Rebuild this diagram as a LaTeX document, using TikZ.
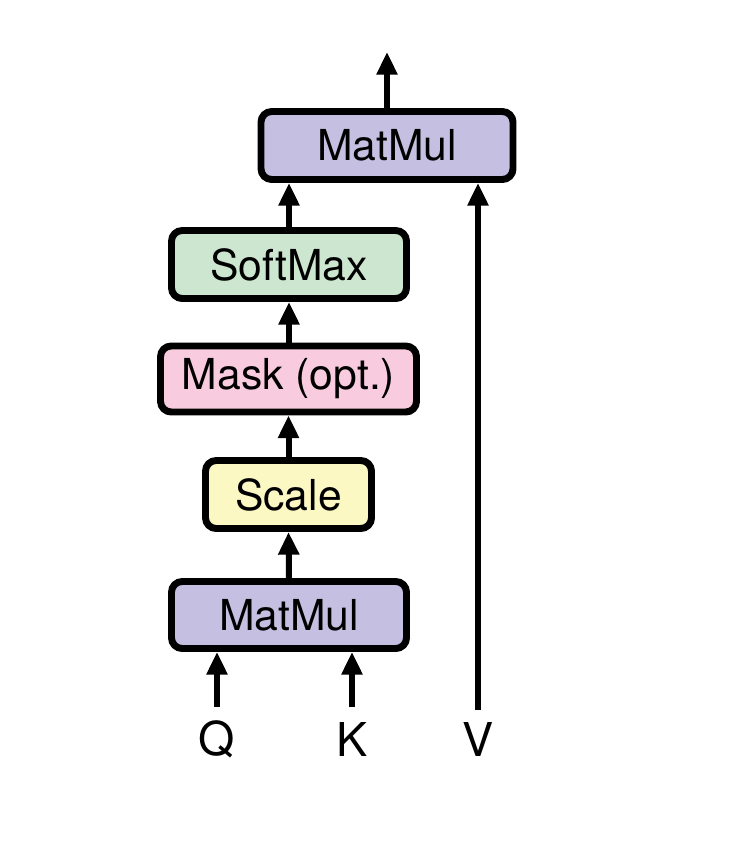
\documentclass[tikz,border=0pt]{standalone}
\usepackage{fontspec}
\setmainfont{TeX Gyre Heros}
\usetikzlibrary{arrows.meta}
\definecolor{mmpurple}{RGB}{197,192,225}
\definecolor{smgreen}{RGB}{204,230,207}
\definecolor{mkpink}{RGB}{248,204,222}
\definecolor{scyellow}{RGB}{252,248,195}
\begin{document}
\begin{tikzpicture}[x={(0.75pt,0)},y={(0,-0.75pt)},
  opbox/.style={draw=black,line width=5.2pt,rounded corners=8pt,inner sep=0pt,
    font=\fontsize{32}{36}\selectfont},
  arr/.style={line width=4.5pt,-{Triangle[width=15pt,length=17pt]}},
  lab/.style={font=\fontsize{35}{40}\selectfont,inner sep=0pt}]
\useasboundingbox (0,0) rectangle (734,868);
\node[opbox,fill=mmpurple,minimum width=252*0.75pt,minimum height=68*0.75pt] (top) at (387,145.5) {MatMul};
\node[opbox,fill=smgreen,minimum width=235*0.75pt,minimum height=68*0.75pt] (soft) at (289,264.5) {SoftMax};
\node[opbox,fill=mkpink,minimum width=256*0.75pt,minimum height=66*0.75pt] (mask) at (288.5,379) {Mask (opt.)};
\node[opbox,fill=scyellow,minimum width=166*0.75pt,minimum height=68*0.75pt] (scale) at (288.5,494.5) {Scale};
\node[opbox,fill=mmpurple,minimum width=235*0.75pt,minimum height=67*0.75pt] (bot) at (289,615) {MatMul};
\node[lab] (q) at (217,739) {Q};
\node[lab] (k) at (352,739) {K};
\node[lab] (v) at (478,739) {V};
\coordinate (qs) at (217,707);
\coordinate (ks) at (352,707);
\coordinate (vs) at (478,710);
\coordinate (out) at (387,52);
\draw[arr] (qs) -- (qs |- bot.south);
\draw[arr] (ks) -- (ks |- bot.south);
\draw[arr] (bot.north) -- (scale.south);
\draw[arr] (scale.north) -- (mask.south -| scale.north);
\draw[arr] (mask.north -| soft.south) -- (soft.south);
\draw[arr] (soft.north) -- (soft.north |- top.south);
\draw[arr] (vs) -- (vs |- top.south);
\draw[arr] (top.north) -- (out);
\end{tikzpicture}
\end{document}
